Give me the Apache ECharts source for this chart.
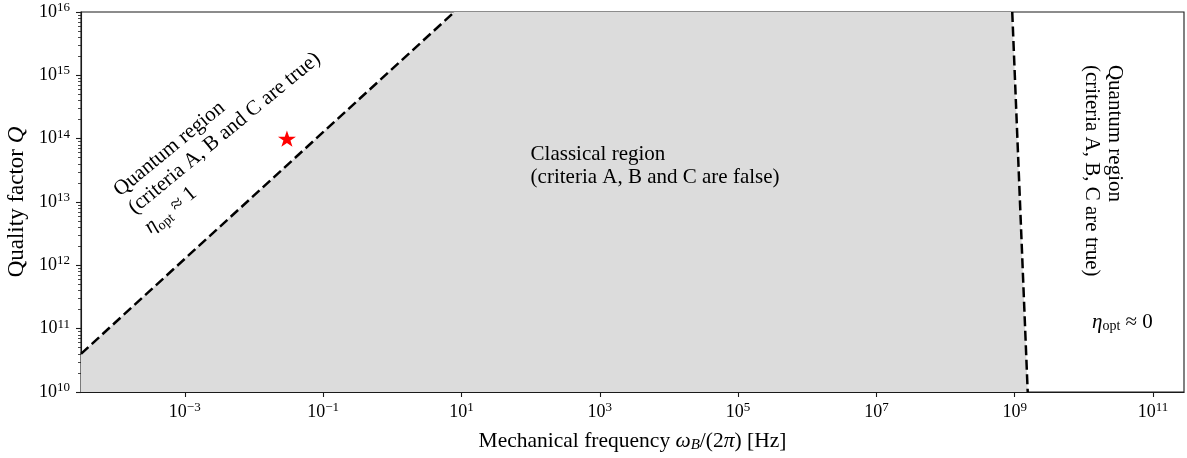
<!DOCTYPE html>
<html>
<head>
<meta charset="utf-8">
<script src="https://cdn.jsdelivr.net/npm/echarts@6/dist/echarts.min.js"></script>
<style>
  html, body { margin: 0; padding: 0; background: #fff; }
  #chart { width: 1187px; height: 458px; }
</style>
</head>
<body>
<div id="chart"></div>
<script>
// Axis limits: mechanical frequency (Hz) and quality factor Q
const freqRange = [3.16e-5, 2.8e11];
const qRange = [1e10, 1e16];
const freqTicks = [1e-3, 1e-1, 1e1, 1e3, 1e5, 1e7, 1e9, 1e11];
const qTicks = [1e10, 1e11, 1e12, 1e13, 1e14, 1e15, 1e16];

// Low-frequency boundary of the classical region (Q grows linearly with f)
const lowBoundaryFreq = [3.16e-5, 7.9];
const lowBoundaryQ = [4.0e10, 1.0e16];

// High-frequency boundary of the classical region
const highBoundaryFreq = [9.2e8, 1.54e9];
const highBoundaryQ = [1.0e16, 1.0e10];

// Operating point of the device
const pointFreq = [0.03];
const pointQ = [1.0e14];

// Region annotations: anchor (f, Q), text, rotation, alignment
const noteFreq = [1.75e-4, 100, 1.92e10, 3.6e10];
const noteQ = [7.0e12, 3.7e13, 1.46e15, 1.26e11];
const noteText = [
  '{r|Quantum region}\n{r|(criteria A, B and C are true)}\n{it|η}{sub|opt}{rt| ≈ 1}',
  '{r|Classical region}\n{r|(criteria A, B and C are false)}',
  '{r|Quantum region}\n{r|(criteria A, B, C are true)}',
  '{i|η}{sub|opt}{r| ≈ 0}'
];
const noteRotate = [39.5, 0, -90, 0];
const noteAlign = ['left', 'left', 'left', 'center'];

const FONT = 'Liberation Serif';
const INK = '#000';

// minor ticks of the logarithmic Q axis at 2..9 × 10^n
const qMinor = [];
for (let n = 10; n < 16; n++) {
  for (let k = 2; k <= 9; k++) qMinor.push(k * Math.pow(10, n));
}

const textRich = {
  r: { fontFamily: FONT, fontSize: 21, lineHeight: 23, color: INK },
  i: { fontFamily: FONT, fontSize: 21, lineHeight: 23, color: INK, fontStyle: 'italic' },
  rt: { fontFamily: FONT, fontSize: 21, lineHeight: 27, color: INK },
  it: { fontFamily: FONT, fontSize: 21, lineHeight: 27, color: INK, fontStyle: 'italic' },
  sub: { fontFamily: FONT, fontSize: 14, lineHeight: 14, color: INK, verticalAlign: 'bottom' }
};

const titleRich = {
  r: { fontFamily: FONT, fontSize: 21.5, lineHeight: 24, color: INK },
  i: { fontFamily: FONT, fontSize: 21.5, lineHeight: 24, color: INK, fontStyle: 'italic' },
  subi: { fontFamily: FONT, fontSize: 15, lineHeight: 15, color: INK, fontStyle: 'italic', verticalAlign: 'bottom' }
};

const yTitleRich = {
  r: { fontFamily: FONT, fontSize: 23, lineHeight: 25, color: INK },
  i: { fontFamily: FONT, fontSize: 23, lineHeight: 25, color: INK, fontStyle: 'italic' }
};

const tickRich = {
  b: { fontFamily: FONT, fontSize: 18, lineHeight: 22, color: INK },
  s: { fontFamily: FONT, fontSize: 13, lineHeight: 14, color: INK, verticalAlign: 'top' }
};

function powerLabel(value) {
  const e = Math.round(Math.log10(value));
  return '{b|10}{s|' + (e < 0 ? '\u2212' + (-e) : e) + '}';
}

const lowLine = lowBoundaryFreq.map((f, i) => [f, lowBoundaryQ[i]]);
const highLine = highBoundaryFreq.map((f, i) => [f, highBoundaryQ[i]]);
// classical region enclosed by the two boundaries and the bottom of the Q range
const region = lowLine.concat(highLine, [[freqRange[0], qRange[0]]]);

const starPath = 'path://M50,0 L61.8,35.3 L98.9,35.3 L69.1,57.1 L80.2,92.7 L50,70.9 L19.8,92.7 L30.9,57.1 L1.1,35.3 L38.2,35.3 Z';

const axisLineStyle = { color: '#1a1a1a', width: 1.1 };

const option = {
  animation: false,
  backgroundColor: '#fff',
  grid: {
    left: 81, right: 3, top: 12, bottom: 66,
    show: true, borderColor: '#1a1a1a', borderWidth: 1.1,
    backgroundColor: 'transparent',
    outerBoundsMode: 'none', containLabel: false
  },
  xAxis: {
    type: 'log', logBase: 10,
    min: freqRange[0], max: freqRange[1],
    name: '{r|Mechanical frequency }{i|ω}{subi|B}{r|/(2}{i|π}{r|) [Hz]}',
    nameLocation: 'middle', nameGap: 37,
    nameTextStyle: { color: INK, rich: titleRich },
    axisLine: { show: true, lineStyle: axisLineStyle },
    axisTick: { show: true, inside: false, length: 5, customValues: freqTicks, lineStyle: { color: '#1a1a1a', width: 1.1 } },
    axisLabel: { show: true, color: INK, margin: 9, customValues: freqTicks, formatter: powerLabel, rich: tickRich },
    splitLine: { show: false },
    minorTick: { show: false },
    minorSplitLine: { show: false }
  },
  yAxis: [
    {
      type: 'log', logBase: 10,
      min: qRange[0], max: qRange[1],
      position: 'left',
      name: '{r|Quality factor }{i|Q}',
      nameLocation: 'middle', nameGap: 49, nameRotate: 90,
      nameTextStyle: { color: INK, rich: yTitleRich },
      axisLine: { show: true, lineStyle: axisLineStyle },
      axisTick: { show: true, inside: false, length: 5, customValues: qTicks, lineStyle: { color: '#1a1a1a', width: 1.1 } },
      axisLabel: { show: true, color: INK, margin: 11, customValues: qTicks, formatter: powerLabel, rich: tickRich },
      splitLine: { show: false }
    },
    {
      type: 'log', logBase: 10,
      min: qRange[0], max: qRange[1],
      position: 'left',
      axisLine: { show: false },
      axisTick: { show: true, inside: false, length: 3, customValues: qMinor, lineStyle: { color: '#1a1a1a', width: 0.8 } },
      axisLabel: { show: false },
      splitLine: { show: false }
    }
  ],
  series: [
    {
      type: 'custom',
      coordinateSystem: 'cartesian2d',
      silent: true,
      z: 1,
      clip: true,
      data: [region[0]],
      renderItem: function (params, api) {
        return {
          type: 'polygon',
          shape: { points: region.map(p => api.coord(p)) },
          style: { fill: '#dcdcdc', stroke: null }
        };
      }
    },
    {
      type: 'line',
      data: lowLine,
      symbol: 'none',
      silent: true,
      z: 3,
      lineStyle: { color: '#000', width: 2.5, type: [10, 4.5] }
    },
    {
      type: 'line',
      data: highLine,
      symbol: 'none',
      silent: true,
      z: 3,
      lineStyle: { color: '#000', width: 2.5, type: [10, 4.5] }
    },
    {
      type: 'scatter',
      data: pointFreq.map((f, i) => [f, pointQ[i]]),
      symbol: starPath,
      symbolKeepAspect: true,
      symbolSize: [18, 17],
      itemStyle: { color: '#ff0000', opacity: 1 },
      silent: true,
      z: 5
    },
    {
      type: 'scatter',
      symbolSize: 0,
      silent: true,
      z: 6,
      itemStyle: { opacity: 1 },
      data: noteFreq.map((f, i) => ({
        value: [f, noteQ[i]],
        label: {
          show: true,
          position: 'inside',
          rotate: noteRotate[i],
          align: noteAlign[i],
          verticalAlign: 'middle',
          color: INK,
          opacity: 1,
          formatter: noteText[i],
          rich: textRich
        }
      }))
    }
  ]
};

const chart = echarts.init(document.getElementById('chart'), null, { renderer: 'canvas' });
chart.setOption(option);
</script>
</body>
</html>
